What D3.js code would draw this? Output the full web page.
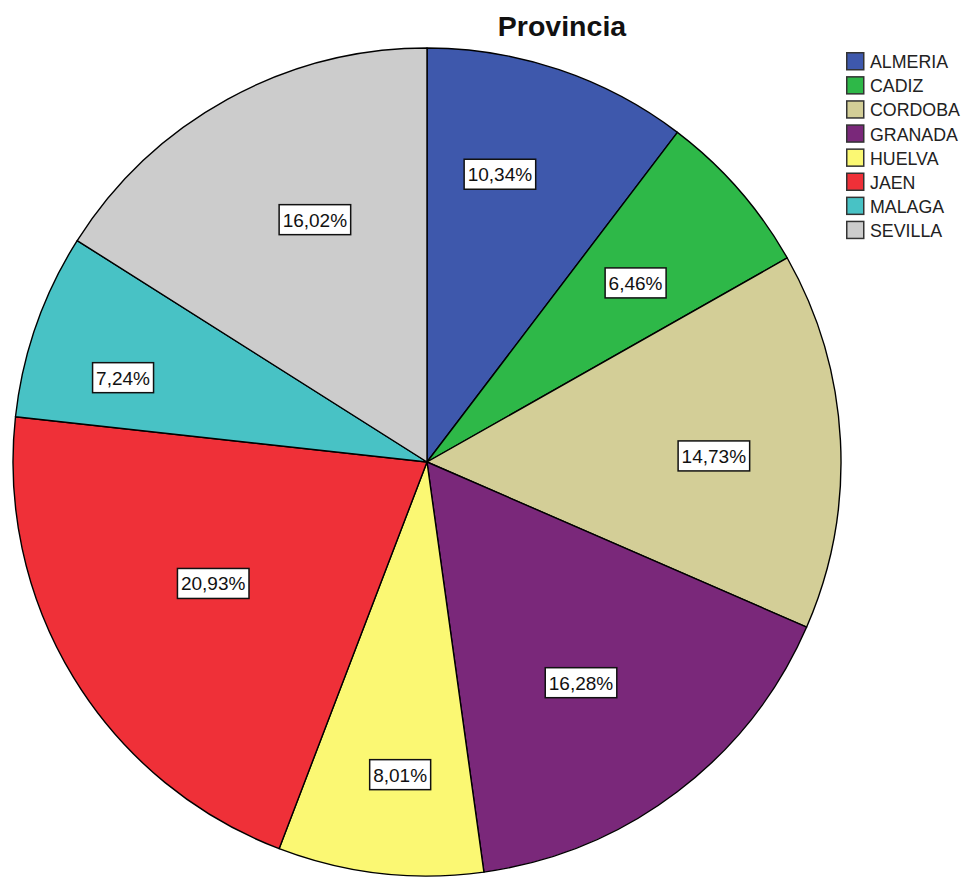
<!DOCTYPE html>
<html><head><meta charset="utf-8">
<script src="https://cdn.jsdelivr.net/npm/d3@7"></script>
<style>body{margin:0;background:#fff}svg{display:block}</style>
</head><body>
<script>
const categories = ["ALMERIA","CADIZ","CORDOBA","GRANADA","HUELVA","JAEN","MALAGA","SEVILLA"];
const percents = [10.34, 6.46, 14.73, 16.28, 8.01, 20.93, 7.24, 16.02];
const colors = ["#3E58AC","#2EB848","#D3CE97","#7A287A","#FBF873","#EF3038","#48C2C5","#CCCCCC"];
const title = "Provincia";
// label placement tweaks (layout only): angle shift in degrees, radius as fraction of pie radius
const labelAngleShift = [-4.4, 0.5, 1.8, 2.3, -1.6, 1.8, -3.8, 4.0];
const labelRadiusFrac = [0.717, 0.664, 0.693, 0.650, 0.758, 0.594, 0.762, 0.645];

const W = 968, H = 877;
const cx = 427, cy = 462, R = 414;
const svg = d3.select("body").append("svg").attr("width", W).attr("height", H);

const pie = d3.pie().sort(null).value(d => d)(percents);
const arc = d3.arc().innerRadius(0).outerRadius(R);
const g = svg.append("g").attr("transform", `translate(${cx},${cy})`);
g.selectAll("path").data(pie).join("path")
  .attr("d", arc).attr("fill", (d,i) => colors[i])
  .attr("stroke", "#000").attr("stroke-width", 1.4).attr("stroke-linejoin","round");

const fmt = v => v.toFixed(2).replace(".", ",") + "%";
const lab = g.selectAll("g.lab").data(pie).join("g").attr("class","lab")
  .attr("transform", (d,i) => {
    const a = (d.startAngle + d.endAngle)/2 + labelAngleShift[i]*Math.PI/180;
    const r = labelRadiusFrac[i]*R;
    return `translate(${r*Math.sin(a)},${-r*Math.cos(a)})`;
  });
lab.each(function(d){
  const s = d3.select(this);
  const t = s.append("text").text(fmt(d.value))
    .attr("font-family","Liberation Sans, Arial, sans-serif").attr("font-size",19)
    .attr("text-anchor","middle").attr("dy","0.36em").attr("fill","#111");
  const b = t.node().getBBox();
  s.insert("rect","text").attr("x", b.x-3.5).attr("y", -15).attr("width", b.width+7).attr("height", 30)
    .attr("fill","#fff").attr("stroke","#111").attr("stroke-width",1.5);
});

svg.append("text").attr("x", 562).attr("y", 36).attr("text-anchor","middle")
  .attr("font-family","Liberation Sans, Arial, sans-serif").attr("font-weight","bold").attr("font-size",28.5)
  .attr("fill","#111").text(title);

const leg = svg.append("g").attr("transform","translate(846,52)");
const row = leg.selectAll("g").data(categories).join("g")
  .attr("transform",(d,i)=>`translate(0,${i*24.1})`);
row.append("rect").attr("x",0.75).attr("y",0.75).attr("width",17).attr("height",17)
  .attr("fill",(d,i)=>colors[i]).attr("stroke","#333").attr("stroke-width",1.5);
row.append("text").attr("x",24).attr("y",16.3)
  .attr("font-family","Liberation Sans, Arial, sans-serif").attr("font-size",17.8).attr("fill","#222")
  .text(d=>d);
</script>
</body></html>
